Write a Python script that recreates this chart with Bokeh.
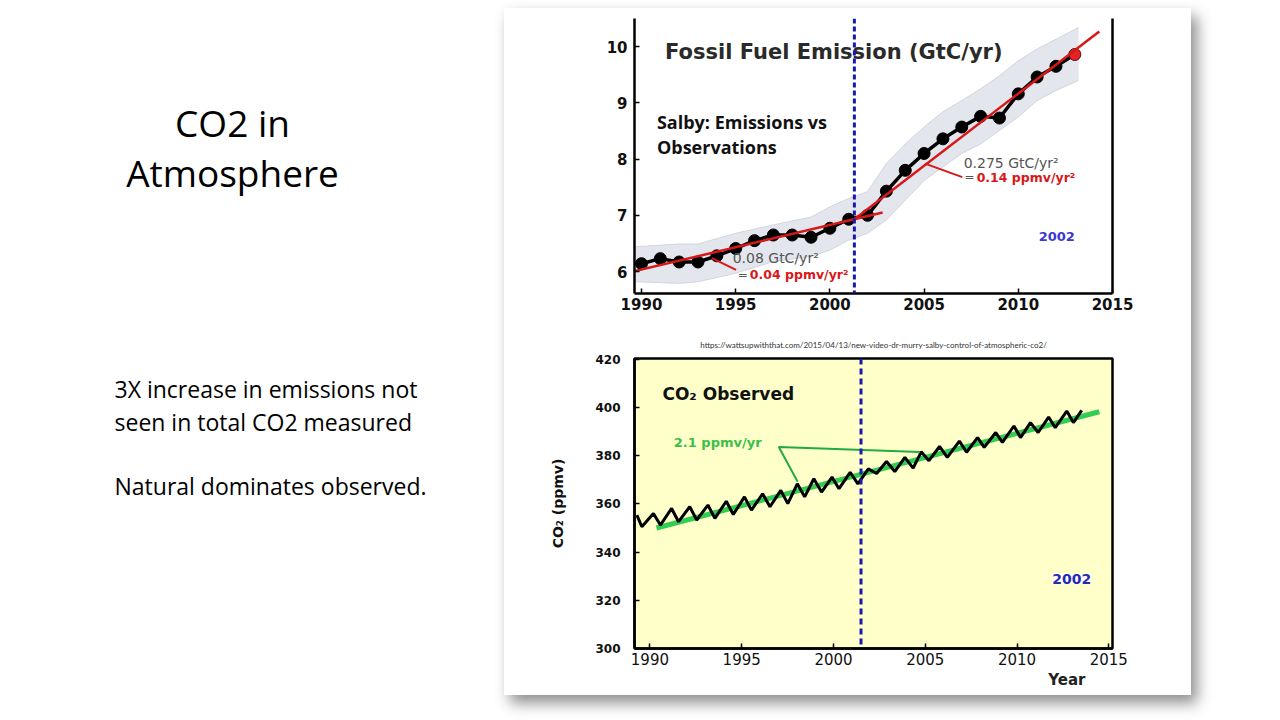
from bokeh.plotting import figure
from bokeh.models import Range1d, LinearAxis, Span, Label, Title, FixedTicker, Spacer
from bokeh.layouts import row, column
from bokeh.embed import file_html
from bokeh.resources import INLINE
from bokeh.core.properties import value

# ---------------- data ----------------
# Top chart: fossil fuel emission (GtC/yr)
em_years = list(range(1990, 2014))
em_values = [6.14, 6.23, 6.17, 6.17, 6.28, 6.41, 6.55, 6.65, 6.65, 6.61, 6.77, 6.93,
             7.00, 7.43, 7.80, 8.10, 8.36, 8.57, 8.76, 8.73, 9.16, 9.46, 9.65, 9.86]
band_years = [1989.7, 1992, 1993, 1995, 1997, 1999, 2000, 2001, 2002, 2003, 2004, 2005,
              2006, 2007, 2008, 2009, 2010, 2011, 2012, 2013.2]
band_upper = [6.44, 6.49, 6.49, 6.68, 6.83, 6.97, 7.15, 7.30, 7.42, 7.92, 8.27, 8.57,
              8.84, 9.04, 9.25, 9.48, 9.75, 9.96, 10.13, 10.34]
band_lower = [5.82, 5.79, 5.82, 5.97, 6.18, 6.27, 6.38, 6.56, 6.68, 6.92, 7.27, 7.62,
              7.86, 8.10, 8.27, 8.51, 8.75, 9.04, 9.22, 9.40]
trend1_x = [1989.55, 2002.8]
trend1_y = [6.00, 7.05]
trend2_x = [2001.3, 2014.3]
trend2_y = [6.93, 10.27]
top_x_ticks = [1990, 1995, 2000, 2005, 2010, 2015]
top_y_ticks = [6, 7, 8, 9, 10]
leader_a_x = [2005.05, 2007.03]
leader_a_y = [7.92, 7.68]
leader_b_x = [1993.74, 1995.02]
leader_b_y = [6.24, 6.03]

# Bottom chart: observed CO2 (ppmv), turning points of the seasonal cycle
co2_t = [1989.29, 1989.56, 1990.19, 1990.57, 1991.18, 1991.56, 1992.17, 1992.55,
         1993.16, 1993.54, 1994.16, 1994.54, 1995.15, 1995.53, 1996.14, 1996.54,
         1997.13, 1997.51, 1998.03, 1998.43, 1998.93, 1999.35, 1999.92, 2000.30,
         2000.91, 2001.33, 2001.90, 2002.35, 2002.89, 2003.34, 2003.89, 2004.34,
         2004.78, 2005.20, 2005.78, 2006.20, 2006.86, 2007.25, 2007.85, 2008.21,
         2008.84, 2009.20, 2009.83, 2010.19, 2010.73, 2011.15, 2011.72, 2012.08,
         2012.71, 2013.07, 2013.52]
co2_v = [355.3, 350.5, 356.0, 351.2, 358.1, 352.6, 358.8, 353.3,
         359.5, 354.0, 361.1, 355.6, 362.9, 357.4, 364.2, 358.8,
         365.6, 360.1, 368.3, 362.9, 370.4, 364.9, 371.1, 366.3,
         373.1, 368.3, 374.5, 372.6, 377.6, 373.4, 379.3, 374.8,
         381.6, 377.9, 383.8, 379.3, 386.0, 381.4, 387.5, 383.4,
         389.6, 385.5, 392.3, 387.5, 393.7, 389.6, 396.0, 391.6,
         398.5, 393.7, 398.8]
green_x = [1990.36, 2014.48]
green_y = [350.0, 398.2]
gleader_x = [2004.71, 1997.02, 1998.05]
gleader_y = [381.5, 383.6, 369.2]
bot_x_ticks = [1990, 1995, 2000, 2005, 2010, 2015]
bot_y_ticks = [300, 320, 340, 360, 380, 400, 420]

url = "https://wattsupwiththat.com/2015/04/13/new-video-dr-murry-salby-control-of-atmospheric-co2/"

DJ = value("DejaVu Sans")
OS = value("Open Sans")

# ---------------- left slide text ----------------
left = figure(width=504, height=704, x_range=Range1d(0, 504), y_range=Range1d(712, 8),
              output_backend="svg", toolbar_location=None, min_border=0)
left.axis.visible = False
left.grid.visible = False
left.outline_line_color = None
left.text(x=[232, 232], y=[121.7, 171.7], text=["CO2 in", "Atmosphere"],
          text_font=OS, text_font_size="37px", text_align="center",
          text_baseline="alphabetic", text_color="#000000")
left.text(x=[114, 114, 114], y=[388.3, 421.7, 485],
          text=["3X increase in emissions not", "seen in total CO2 measured",
                "Natural dominates observed."],
          text_font=OS, text_font_size="23px", text_align="left",
          text_baseline="alphabetic", text_color="#000000")

# ---------------- top chart ----------------
p1 = figure(width=687, height=320, x_range=Range1d(1989.63, 2015.0),
            y_range=Range1d(5.61, 10.5), output_backend="svg", toolbar_location=None,
            min_border_left=130, min_border_right=75, min_border_top=10,
            min_border_bottom=35)
p1.grid.visible = False
p1.outline_line_color = None
p1.background_fill_color = "white"
p1.border_fill_color = "white"
p1.xaxis.ticker = FixedTicker(ticks=top_x_ticks)
p1.yaxis.ticker = FixedTicker(ticks=top_y_ticks)
for ax in (p1.xaxis, p1.yaxis):
    ax.axis_line_width = 2.5
    ax.axis_line_color = "black"
    ax.major_tick_in = 5
    ax.major_tick_out = 0
    ax.major_tick_line_width = 1.5
    ax.minor_tick_line_color = None
    ax.major_label_text_font = "DejaVu Sans"
    ax.major_label_text_font_size = "15px"
    ax.major_label_text_font_style = "bold"
    ax.major_label_text_color = "#111111"
p1.xaxis.major_label_standoff = 4
p1.yaxis.major_label_standoff = 7
rax = LinearAxis(ticker=FixedTicker(ticks=[]), axis_line_width=2.5,
                 major_tick_in=0, major_tick_out=0, minor_tick_line_color=None)
p1.add_layout(rax, "right")

p1.varea(x=band_years, y1=band_lower, y2=band_upper, fill_color="#e4e6ee")
p1.line(band_years, band_upper, line_color="#d2d4de", line_width=1)
p1.line(band_years, band_lower, line_color="#d2d4de", line_width=1)
p1.line(em_years, em_values, line_color="black", line_width=3.5)
p1.scatter(em_years[:-1], em_values[:-1], size=12, fill_color="black", line_color="black")
p1.scatter(em_years[-1:], em_values[-1:], size=12, fill_color="#e82222", line_color="#441111")
p1.line(trend1_x, trend1_y, line_color="#d81818", line_width=2.5)
p1.line(trend2_x, trend2_y, line_color="#d81818", line_width=2.5)
p1.line(leader_a_x, leader_a_y, line_color="#d81818", line_width=2)
p1.line(leader_b_x, leader_b_y, line_color="#d81818", line_width=2)
p1.add_layout(Span(location=2001.3, dimension="height", line_color="#1a1aaa",
                   line_width=3, line_dash="5 3"))

p1.text(x=[1991.25], y=[9.91], text=["Fossil Fuel Emission (GtC/yr)"], text_font=DJ,
        text_font_size="21px", text_font_style="bold", text_color="#2a2a2a",
        text_baseline="middle")
p1.text(x=[1990.82, 1990.82], y=[8.66, 8.21], text=["Salby:  Emissions vs", "Observations"],
        text_font=OS, text_font_size="18px", text_font_style="bold", text_color="#111111",
        text_baseline="middle")
p1.text(x=[2007.1, 1994.84], y=[7.93, 6.24], text=["0.275 GtC/yr²", "0.08 GtC/yr²"],
        text_font=DJ, text_font_size="14px", text_color="#555555", text_baseline="middle")
p1.text(x=[2007.15, 1995.11], y=[7.68, 5.94], text=["=", "="],
        text_font=DJ, text_font_size="12px", text_color="#555555", text_baseline="middle")
p1.text(x=[2007.79, 1995.75], y=[7.68, 5.94], text=["0.14 ppmv/yr²", "0.04 ppmv/yr²"],
        text_font=DJ, text_font_size="12.5px", text_font_style="bold", text_color="#d81818",
        text_baseline="middle")
p1.text(x=[2011.08], y=[6.62], text=["2002"], text_font=DJ, text_font_size="13px",
        text_font_style="bold", text_color="#3a3acc", text_baseline="middle")

# ---------------- bottom chart ----------------
p2 = figure(width=687, height=367, x_range=Range1d(1989.16, 2015.2),
            y_range=Range1d(300, 420.3), output_backend="svg", toolbar_location=None,
            min_border_left=125, min_border_right=79, min_border_top=28,
            min_border_bottom=47)
p2.title = Title(text=url, text_font="Lato", text_font_size="8px", text_font_style="normal",
                 text_color="#333333", align="center", standoff=18)
p2.add_layout(Title(text="Year", text_font="DejaVu Sans", text_font_size="15px",
                    text_font_style="bold", text_color="#222222", align="right",
                    offset=27, standoff=2), "below")
p2.grid.visible = False
p2.background_fill_color = "#ffffc9"
p2.border_fill_color = "white"
p2.outline_line_color = "black"
p2.outline_line_width = 2.5
p2.outline_line_alpha = 1
p2.xaxis.ticker = FixedTicker(ticks=bot_x_ticks)
p2.yaxis.ticker = FixedTicker(ticks=bot_y_ticks)
for ax in (p2.xaxis, p2.yaxis):
    ax.axis_line_width = 2.5
    ax.axis_line_color = "black"
    ax.major_tick_in = 5
    ax.major_tick_out = 0
    ax.major_tick_line_width = 1.5
    ax.minor_tick_line_color = None
    ax.major_label_text_font = "DejaVu Sans"
    ax.major_label_text_color = "#111111"
p2.xaxis.major_label_text_font_size = "15px"
p2.yaxis.major_label_text_font_size = "12px"
p2.yaxis.major_label_text_font_style = "bold"
p2.xaxis.major_label_standoff = 4
p2.yaxis.major_label_standoff = 14
p2.yaxis.axis_label = "CO₂ (ppmv)"
p2.yaxis.axis_label_text_font = "DejaVu Sans"
p2.yaxis.axis_label_text_font_size = "14px"
p2.yaxis.axis_label_text_font_style = "bold"
p2.yaxis.axis_label_text_color = "#111111"
p2.yaxis.axis_label_standoff = 26

p2.line(green_x, green_y, line_color="#33cc55", line_width=5)
p2.line(co2_t, co2_v, line_color="black", line_width=3)
p2.line(gleader_x, gleader_y, line_color="#22aa44", line_width=2)
p2.add_layout(Span(location=2001.5, dimension="height", line_color="#1a1aaa",
                   line_width=3, line_dash="6 4"))
p2.text(x=[1990.68], y=[405.5], text=["CO₂ Observed"], text_font=DJ, text_font_size="17px",
        text_font_style="bold", text_color="#111111", text_baseline="middle")
p2.text(x=[1991.3], y=[385.6], text=["2.1 ppmv/yr"], text_font=DJ, text_font_size="13px",
        text_font_style="bold", text_color="#3cbf4a", text_baseline="middle")
p2.add_layout(Label(x=2012.98, y=328.9, text="2002", text_font="DejaVu Sans",
                    text_font_size="14px", text_font_style="bold", text_color="#2a2ab0",
                    text_align="center", text_baseline="middle",
                    background_fill_color="white"))

card = column(p1, p2, styles={"box-shadow": "6px 8px 14px rgba(0,0,0,0.45)",
                              "background-color": "white"})
page = column(Spacer(height=8), row(left, card))

open("out.html", "w").write(file_html(page, INLINE))
